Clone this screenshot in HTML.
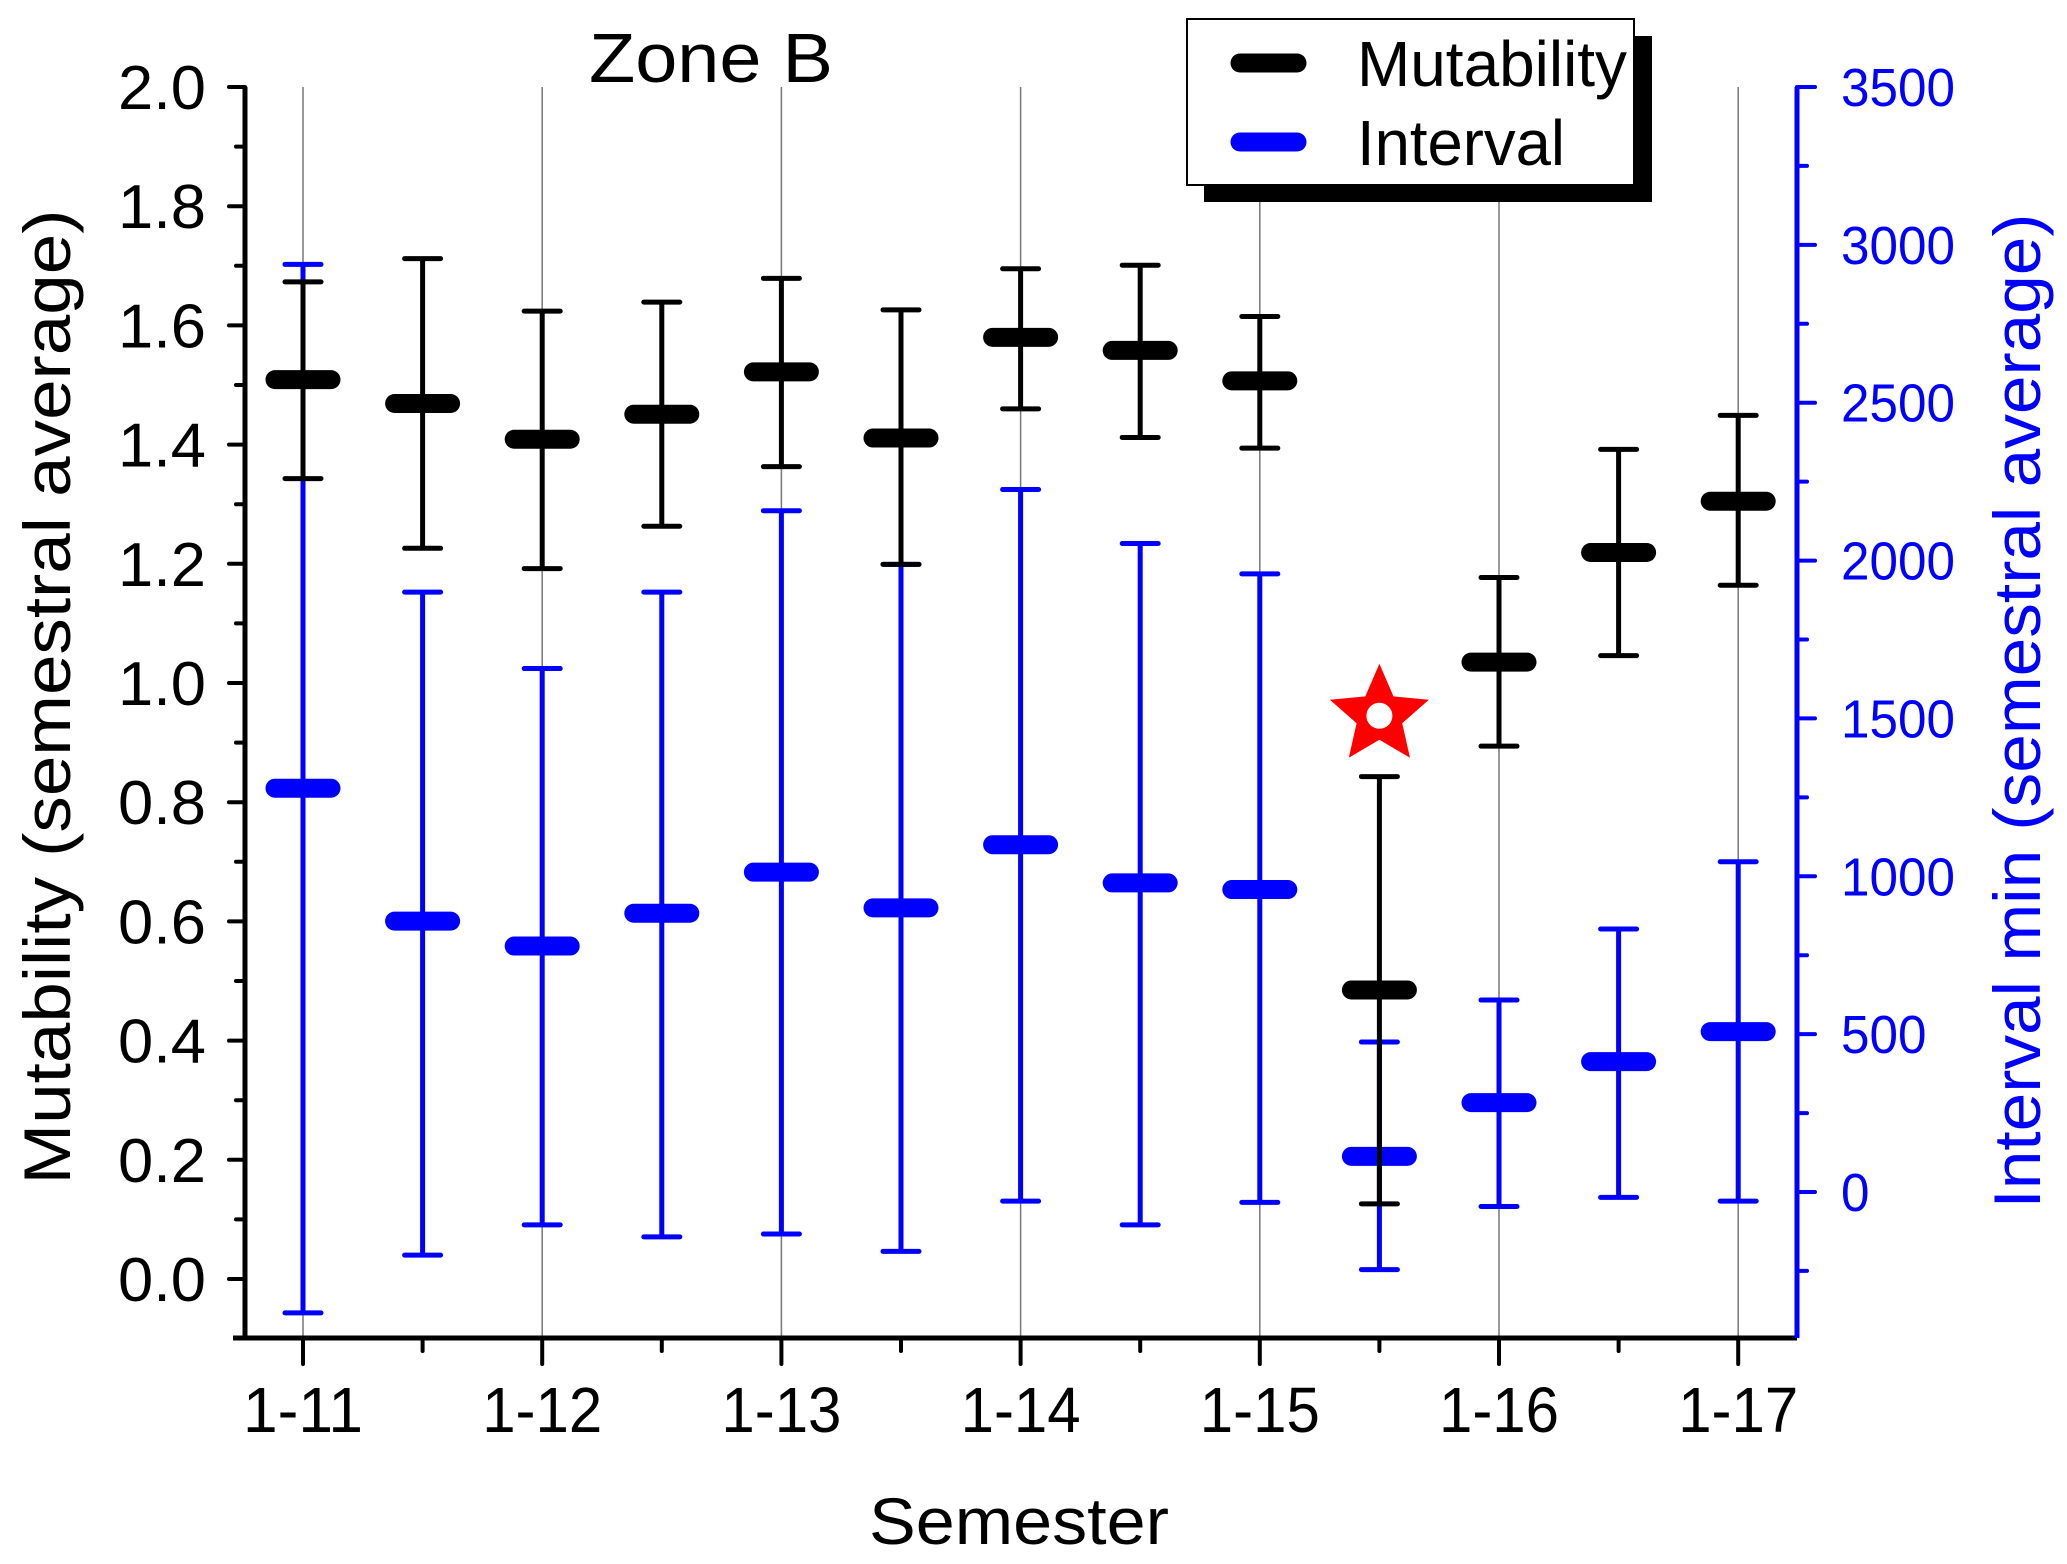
<!DOCTYPE html>
<html><head><meta charset="utf-8"><style>
html,body{margin:0;padding:0;background:#fff;}
svg{display:block;font-family:"Liberation Sans",sans-serif;}
</style></head><body>
<svg id="chart" width="2067" height="1564" viewBox="0 0 2067 1564" xmlns="http://www.w3.org/2000/svg"></svg>
<script>
const categories = ["1-11","","1-12","","1-13","","1-14","","1-15","","1-16","","1-17"];
const mutMean = [1.509,1.469,1.409,1.451,1.522,1.411,1.580,1.558,1.507,0.485,1.035,1.219,1.305];
const mutHigh = [1.673,1.712,1.624,1.639,1.679,1.626,1.695,1.701,1.615,0.843,1.177,1.392,1.449];
const mutLow  = [1.343,1.226,1.192,1.263,1.363,1.199,1.460,1.412,1.394,0.126,0.894,1.046,1.164];
const intMean = [1279,858,779,883,1013,900,1100,979,958,113,283,413,508];
const intHigh = [2938,1900,1658,1900,2158,1988,2225,2054,1958,475,608,833,1046];
const intLow  = [-383,-200,-104,-142,-133,-188,-29,-104,-33,-246,-46,-17,-29];
const leftTicks = ["0.0","0.2","0.4","0.6","0.8","1.0","1.2","1.4","1.6","1.8","2.0"];
const rightTicks = ["0","500","1000","1500","2000","2500","3000","3500"];
const starIndex = 9, starValue = 0.945;

const svg = document.getElementById('chart');
const NS = 'http://www.w3.org/2000/svg';
const X0 = 303, DX = 119.6;
const xS = i => X0 + i*DX;
const yL = v => 1279 - v*596;
const yR = v => 1192 - v*(1105/3500);
const AX_L = 245, AX_R = 1797, AX_B = 1338, AX_T = 87;
function mk(tag, attrs, parent){ const e=document.createElementNS(NS,tag); for(const k in attrs) e.setAttribute(k,attrs[k]); (parent||svg).appendChild(e); return e; }

for(let i=0;i<categories.length;i+=2){
  const g = mk('line',{x1:xS(i),x2:xS(i),y1:AX_T,y2:AX_B,stroke:'#777','stroke-width':1.5});
  
  
}
let a = mk('line',{x1:AX_L,x2:AX_L,y1:AX_T,y2:AX_B,stroke:'#000','stroke-width':5});
 
a = mk('line',{x1:233,x2:AX_R,y1:AX_B,y2:AX_B,stroke:'#000','stroke-width':5});
 
a = mk('line',{x1:AX_R,x2:AX_R,y1:AX_T,y2:AX_B,stroke:'#00f','stroke-width':5});
 

for(let k=-1;k<=20;k++){
  const v=k/10, y=yL(v); if(y<AX_T-1||y>AX_B) continue;
  const major = k%2===0 && k>=0;
  const t = mk('line',{x1:AX_L-(major?16:9),x2:AX_L,y1:y,y2:y,stroke:'#000','stroke-width':4,'stroke-linecap':'round'});
   
}
leftTicks.forEach(s=>{
  const t = mk('text',{x:206,y:yL(parseFloat(s))+22,'text-anchor':'end','font-size':62,fill:'#000',textLength:88,lengthAdjust:'spacingAndGlyphs'});
  t.textContent=s;
   
});
for(let v=-250; v<=3500; v+=250){
  const y=yR(v); const major = v%500===0;
  const t = mk('line',{x1:AX_R,x2:AX_R+(major?18:10),y1:y,y2:y,stroke:'#00f','stroke-width':4,'stroke-linecap':'round'});
   
}
rightTicks.forEach(s=>{
  const t = mk('text',{x:1841,y:yR(parseFloat(s))+19,'font-size':54,fill:'#00f',textLength:28.5*s.length,lengthAdjust:'spacingAndGlyphs'});
  t.textContent=s;
   
});
categories.forEach((c,i)=>{
  const major = i%2===0;
  const t = mk('line',{x1:xS(i),x2:xS(i),y1:AX_B,y2:AX_B+(major?26:13),stroke:'#000','stroke-width':4,'stroke-linecap':'round'});
   
  if(c){
    const l = mk('text',{x:xS(i),y:1432,'text-anchor':'middle','font-size':64,fill:'#000',textLength:120,lengthAdjust:'spacingAndGlyphs'});
    l.textContent=c;
     
  }
});

function series(mean,hi,lo,yf,color,name){
  mean.forEach((m,i)=>{
    const x=xS(i);
    const g = mk('g',{});
    
    
    mk('line',{x1:x,x2:x,y1:yf(hi[i]),y2:yf(lo[i]),stroke:color,'stroke-width':5},g);
    mk('line',{x1:x-18,x2:x+18,y1:yf(hi[i]),y2:yf(hi[i]),stroke:color,'stroke-width':5,'stroke-linecap':'round'},g);
    mk('line',{x1:x-18,x2:x+18,y1:yf(lo[i]),y2:yf(lo[i]),stroke:color,'stroke-width':5,'stroke-linecap':'round'},g);
    mk('line',{x1:x-28,x2:x+28,y1:yf(m),y2:yf(m),stroke:color,'stroke-width':19,'stroke-linecap':'round'},g);
  });
}
series(intMean,intHigh,intLow,yR,'#00f','interval');
series(mutMean,mutHigh,mutLow,yL,'#000','mutability');

(function(){
  const cx=xS(starIndex), cy=yL(starValue), R=52, r=24; let pts=[];
  for(let k=0;k<10;k++){ const ang=-Math.PI/2+k*Math.PI/5, rr=k%2?r:R; pts.push((cx+rr*Math.cos(ang)).toFixed(1)+','+(cy+rr*Math.sin(ang)).toFixed(1)); }
  const s = mk('polygon',{points:pts.join(' '),fill:'#f00'});
   
  const c = mk('circle',{cx:cx,cy:cy,r:13,fill:'#fff'});
   
})();
</script>
<svg style="position:absolute;left:0;top:0" width="2067" height="1564">
  <text x="711" y="82" text-anchor="middle" font-size="70" textLength="244" lengthAdjust="spacingAndGlyphs" font-family="Liberation Sans, sans-serif">Zone B</text>
  <g>
    <rect x="1204" y="36" width="448" height="166" fill="#000"/>
    <rect x="1187" y="19" width="447" height="166" fill="#fff" stroke="#000" stroke-width="2"/>
    <line x1="1240" x2="1297" y1="63" y2="63" stroke="#000" stroke-width="19" stroke-linecap="round"/>
    <text x="1357" y="86" font-size="64" textLength="270" lengthAdjust="spacingAndGlyphs" font-family="Liberation Sans, sans-serif">Mutability</text>
    <line x1="1240" x2="1297" y1="142" y2="142" stroke="#00f" stroke-width="19" stroke-linecap="round"/>
    <text x="1357" y="165" font-size="64" textLength="208" lengthAdjust="spacingAndGlyphs" font-family="Liberation Sans, sans-serif">Interval</text>
  </g>
  <text x="1019" y="1544" text-anchor="middle" font-size="66" textLength="300" lengthAdjust="spacingAndGlyphs" font-family="Liberation Sans, sans-serif">Semester</text>
  <text transform="translate(70,697) rotate(-90)" text-anchor="middle" font-size="66" textLength="975" lengthAdjust="spacingAndGlyphs" font-family="Liberation Sans, sans-serif">Mutability (semestral average)</text>
  <text transform="translate(2040,711) rotate(-90)" text-anchor="middle" font-size="66" fill="#00f" textLength="995" lengthAdjust="spacingAndGlyphs" font-family="Liberation Sans, sans-serif">Interval min (semestral average)</text>
</svg>
</body></html>
